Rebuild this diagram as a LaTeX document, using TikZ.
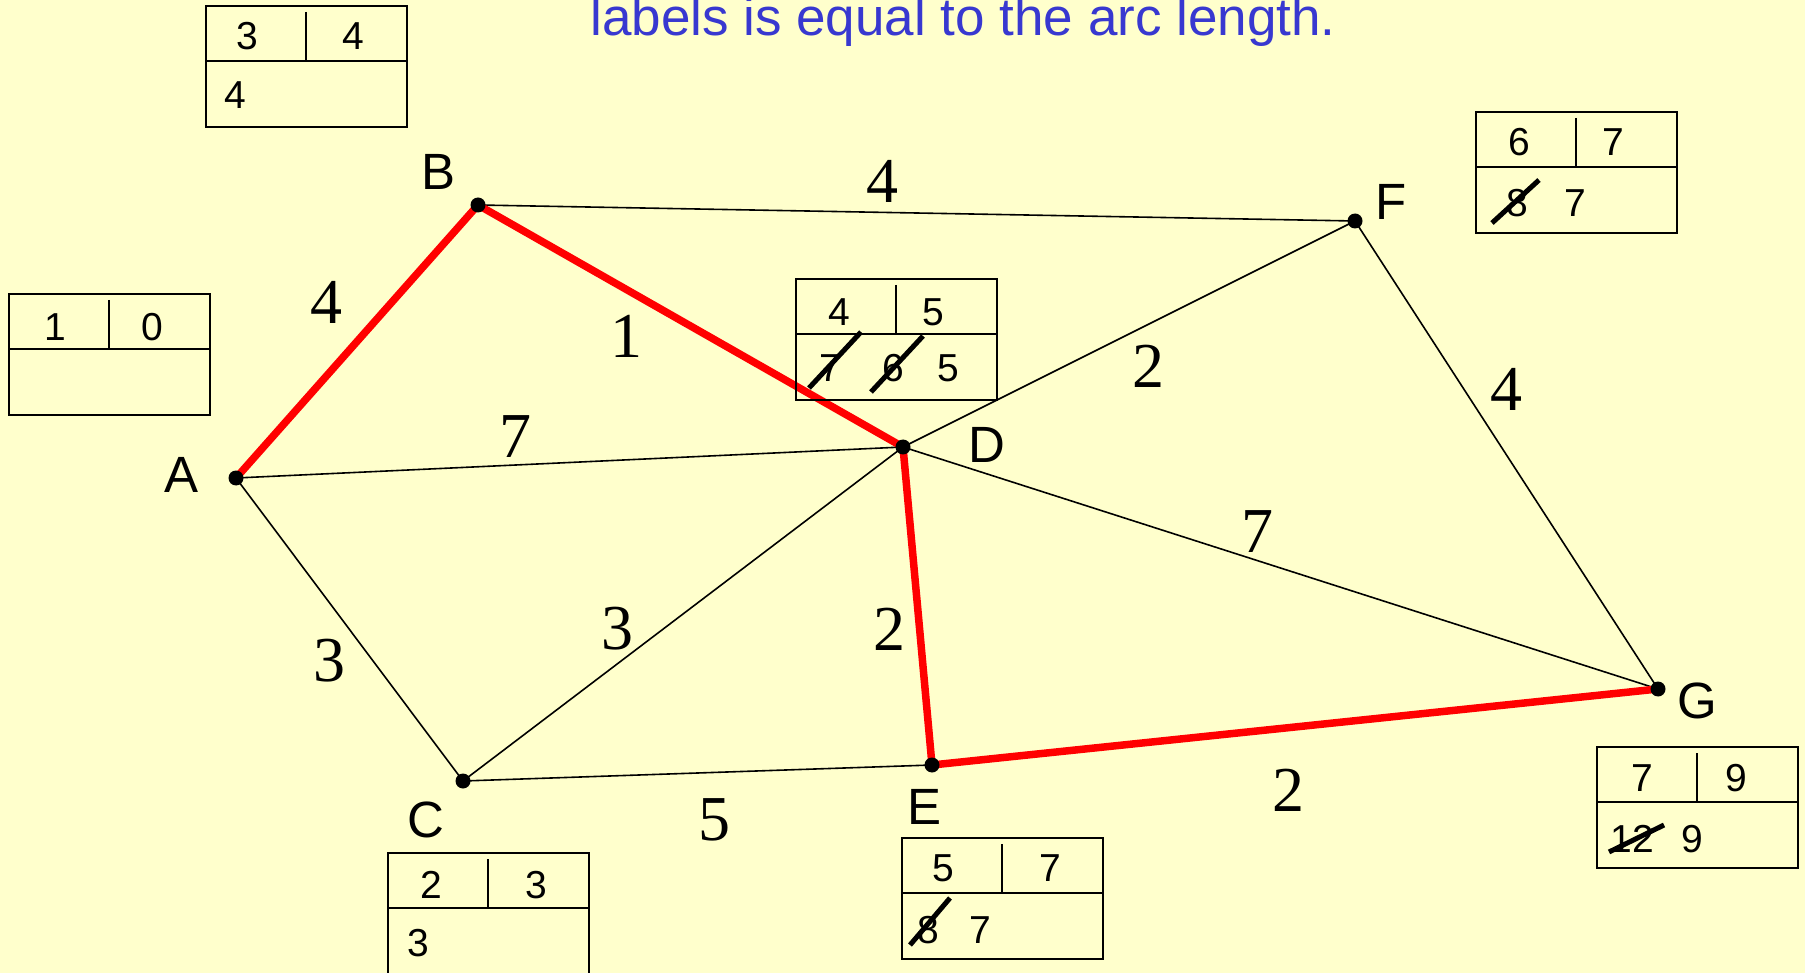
\documentclass[tikz,border=0pt]{standalone}
\usepackage{fontspec}
\setmainfont{Liberation Sans}
\newfontfamily\serifnum{Liberation Serif}
\definecolor{bgyellow}{RGB}{255,255,204}
\definecolor{titleblue}{RGB}{56,56,208}
\definecolor{pathred}{RGB}{255,0,0}
\newcommand{\lblbox}[3]{%
  \draw[boxline] (#1,#2) rectangle ++(201,121);
  \draw[boxline] (#1,#2+55) -- ++(201,0);
  \draw[boxline] (#1+100,#2+6) -- (#1+100,#2+55);
  \coordinate (#3) at (#1,#2);
}
\begin{document}
\begin{tikzpicture}[x=1pt,y=-1pt,
  boxline/.style={line width=2.2pt,black},
  edge/.style={line width=1.6pt,black},
  redpath/.style={line width=7.5pt,pathred,line cap=round,line join=round},
  vdot/.style={circle,fill=black,inner sep=0pt,minimum size=15pt},
  vlabel/.style={font=\fontsize{51}{56}\selectfont,inner sep=0pt},
  elabel/.style={font=\serifnum\fontsize{64}{70}\selectfont,inner sep=0pt},
  bnum/.style={font=\fontsize{39}{44}\selectfont,inner sep=0pt},
  strike/.style={line width=5pt,black}]
\useasboundingbox (0,0) rectangle (1805,973);
\fill[bgyellow] (0,0) rectangle (1805,973);

% title
\node[font=\fontsize{53}{58}\selectfont,text=titleblue,anchor=base,inner sep=0pt] (title) at (963,36) {labels is equal to the arc length.};

% vertex positions
\coordinate (A) at (236,478);
\coordinate (B) at (478,205);
\coordinate (C) at (463,781);
\coordinate (D) at (903,447);
\coordinate (E) at (932,765);
\coordinate (F) at (1355,221);
\coordinate (G) at (1658,689);

% thin edges
\draw[edge] (B) -- (F);
\draw[edge] (A) -- (D);
\draw[edge] (A) -- (C);
\draw[edge] (C) -- (D);
\draw[edge] (C) -- (E);
\draw[edge] (D) -- (F);
\draw[edge] (D) -- (G);
\draw[edge] (F) -- (G);

% shortest path
\draw[redpath] (A) -- (B) -- (D) -- (E) -- (G);

% vertex dots
\foreach \v in {A,B,C,D,E,F,G} \node[vdot] (dot\v) at (\v) {};

% vertex labels
\node[vlabel] (labA) at (182,475) {A};
\node[vlabel] (labB) at (439,172) {B};
\node[vlabel] (labC) at (426,820) {C};
\node[vlabel] (labD) at (987,445) {D};
\node[vlabel] (labE) at (924,807) {E};
\node[vlabel] (labF) at (1391,202) {F};
\node[vlabel] (labG) at (1697,701) {G};

% edge labels
\node[elabel] (wAB) at (326,302) {4};
\node[elabel] (wBD) at (626,336) {1};
\node[elabel] (wBF) at (882,181) {4};
\node[elabel] (wAD) at (515,437) {7};
\node[elabel] (wDF) at (1148,366) {2};
\node[elabel] (wFG) at (1506,389) {4};
\node[elabel] (wDG) at (1257,532) {7};
\node[elabel] (wAC) at (329,661) {3};
\node[elabel] (wCD) at (617,629) {3};
\node[elabel] (wDE) at (889,629) {2};
\node[elabel] (wCE) at (714,820) {5};
\node[elabel] (wEG) at (1288,790) {2};

% label boxes
\lblbox{9}{294}{bxA}
\node[bnum] (bA1) at (9+46,294+33) {1};
\node[bnum] (bA2) at (9+143,294+33) {0};

\lblbox{206}{6}{bxB}
\node[bnum] (bB1) at (206+41,6+30) {3};
\node[bnum] (bB2) at (206+147,6+30) {4};
\node[bnum] (bB3) at (206+29,6+89) {4};

\lblbox{388}{853}{bxC}
\node[bnum] (bC1) at (388+43,853+32) {2};
\node[bnum] (bC2) at (388+148,853+32) {3};
\node[bnum] (bC3) at (388+30,853+90) {3};

\lblbox{796}{279}{bxD}
\node[bnum] (bD1) at (796+43,279+33) {4};
\node[bnum] (bD2) at (796+137,279+33) {5};
\node[bnum] (bD3) at (796+34,279+89) {7};
\node[bnum] (bD4) at (796+97,279+89) {6};
\node[bnum] (bD5) at (796+152,279+89) {5};
\draw[strike] (809,388) -- (861,332);
\draw[strike] (871,392) -- (923,336);

\lblbox{902}{838}{bxE}
\node[bnum] (bE1) at (902+41,838+30) {5};
\node[bnum] (bE2) at (902+148,838+30) {7};
\node[bnum] (bE3) at (902+26,838+92) {8};
\node[bnum] (bE4) at (902+78,838+92) {7};
\draw[strike] (910,945) -- (950,898);

\lblbox{1476}{112}{bxF}
\node[bnum] (bF1) at (1476+43,112+30) {6};
\node[bnum] (bF2) at (1476+137,112+30) {7};
\node[bnum] (bF3) at (1476+41,112+91) {8};
\node[bnum] (bF4) at (1476+99,112+91) {7};
\draw[strike] (1492,223) -- (1539,180);

\lblbox{1597}{747}{bxG}
\node[bnum] (bG1) at (1597+45,747+31) {7};
\node[bnum] (bG2) at (1597+139,747+31) {9};
\node[bnum] (bG3) at (1597+35,747+92) {12};
\node[bnum] (bG4) at (1597+95,747+92) {9};
\draw[strike] (1609,852) -- (1664,825);
\end{tikzpicture}
\end{document}
